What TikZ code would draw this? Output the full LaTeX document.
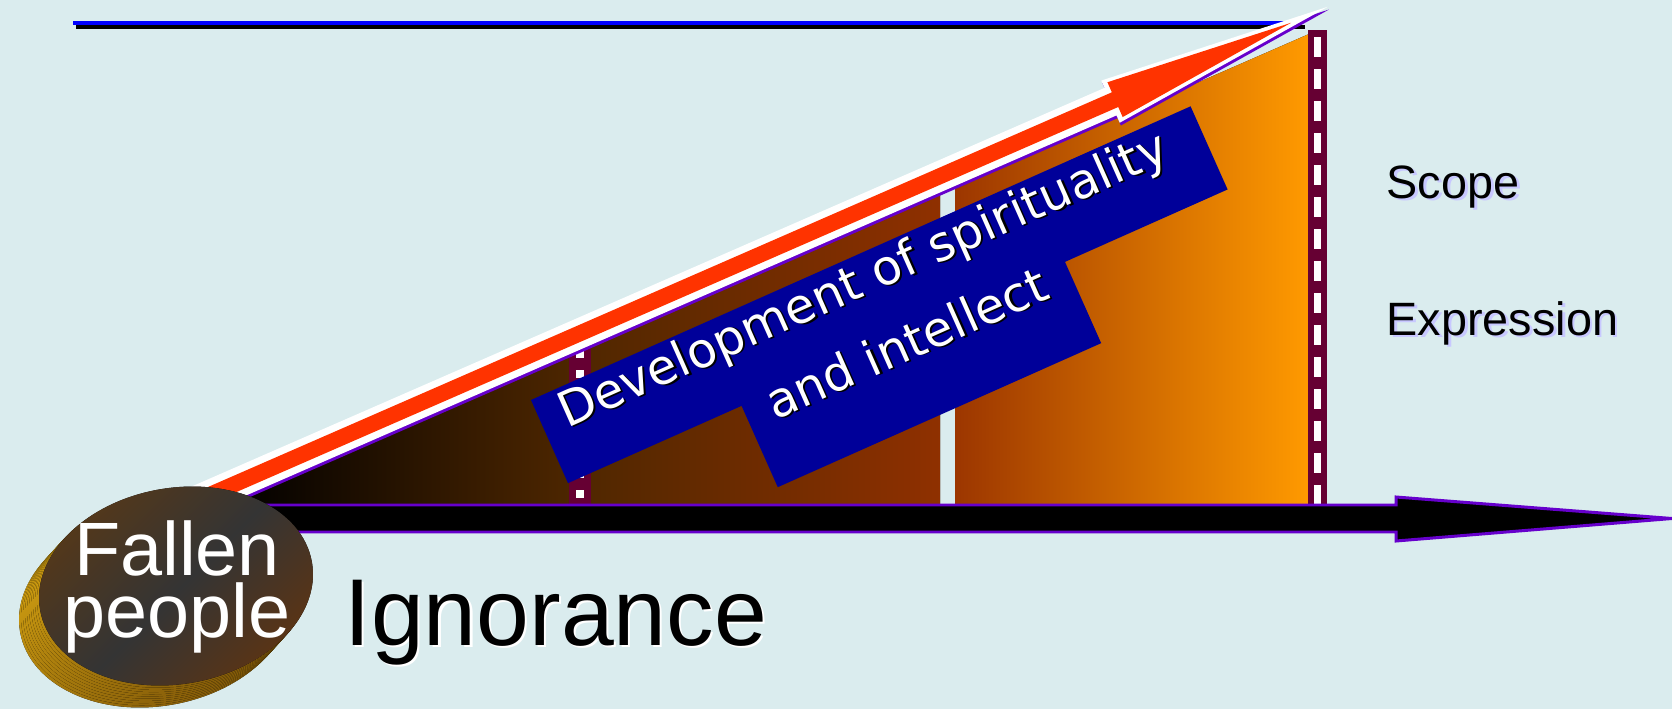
\documentclass[tikz,border=0pt]{standalone}
\usepackage{fontspec}
\setmainfont{Liberation Sans}
\newfontfamily\bannerfont{DejaVu Sans}
\usetikzlibrary{positioning}

\definecolor{bgblue}{HTML}{DAECEE}
\definecolor{maroon}{HTML}{660033}
\definecolor{arrowred}{HTML}{FF3300}
\definecolor{edgepurple}{HTML}{6600CC}
\definecolor{bannerblue}{HTML}{000099}
\definecolor{lavender}{HTML}{C8C8FF}
\definecolor{rustdk}{HTML}{4F2700}
\definecolor{rustmid}{HTML}{8F3000}
\definecolor{rustlt}{HTML}{9C3600}
\definecolor{orangelt}{HTML}{FF9A00}
\definecolor{goldlt}{HTML}{D6A412}
\definecolor{golddk}{HTML}{7E5608}
\definecolor{disktop}{HTML}{54381A}
\definecolor{diskmid}{HTML}{343434}
\definecolor{diskbot}{HTML}{5E3412}

\newcommand{\shadowed}[3]{\makebox[0pt][l]{\hspace{#2}\raisebox{-#2}{\textcolor{#1}{#3}}}#3}

\begin{document}
\begin{tikzpicture}[
            x=0.01cm, y=-0.01cm,
            node distance=1.37cm,
            lbl/.style={font=\fontsize{13.3}{16}\selectfont, inner sep=0pt, anchor=base west},
            bannertxt/.style={font=\bannerfont\fontsize{13.8}{16}\selectfont, text=white, inner sep=0pt, anchor=base},
            bigtxt/.style={font=\fontsize{27}{30}\selectfont, inner sep=0pt, anchor=base west},
            barline/.style={maroon, line width=#1},
            bardash/.style={white, line width=#1}
        ]
        \useasboundingbox[fill=bgblue] (0,0) rectangle (1672,709);

        \draw[line width=1.4pt] (76,27) -- (1305,27);
        \draw[blue, line width=1.4pt] (73,23) -- (1300,23);

        \fill[left color=black, right color=rustdk] (228,506) -- (580,352.3) -- (580,506) -- cycle;
        \fill[left color=rustdk, right color=rustmid] (580,352.3) -- (940,195.1) -- (940,506) -- (580,506) -- cycle;
        \fill[left color=rustlt, right color=orangelt] (955,188.6) -- (1309,34) -- (1309,506) -- (955,506) -- cycle;

        \draw[barline=6.3pt] (580,345) -- (580,506);
        \draw[bardash=2.5pt, dash pattern=on 2.3pt off 3.4pt] (580,350) -- (580,506);
        \draw[barline=5.4pt] (1317.5,30) -- (1317.5,506);
        \draw[bardash=2.2pt, dash pattern=on 5.7pt off 3.4pt] (1317.5,37) -- (1317.5,506);

        \begin{scope}[shift={(228,487)}, rotate=23.59]
            \fill[edgepurple] (-60,-12) -- (963,-12) -- (963,-20) -- (1200,3) -- (963,26) -- (963,18) -- (-60,18) -- cycle;
            \fill[white] (-60,-15) -- (963,-15) -- (963,-23) -- (1200,0) -- (963,23) -- (963,15) -- (-60,15) -- cycle;
            \fill[arrowred] (-60,-8) -- (968,-8) -- (968,-19) -- (1160,0) -- (968,19) -- (968,8) -- (-60,8) -- cycle;
        \end{scope}

        \begin{scope}[shift={(531,400)}, rotate=24, transform shape]
            \fill[bannerblue] (0,0) -- (722,0) -- (722,91) -- (544,91) -- (544,180) -- (190,180) -- (190,91) -- (0,91) -- cycle;
            \node[bannertxt] (dev) at (352,41) {\shadowed{black}{0.5pt}{Development of spirituality}};
            \node[bannertxt] (int) at (366,118) {\shadowed{black}{0.5pt}{and intellect}};
        \end{scope}

        \draw[edgepurple, line width=0.85pt, fill=black] (200,505) -- (1396,505) -- (1396,497) -- (1672,518.5) -- (1396,541) -- (1396,532) -- (200,532) -- cycle;

        \foreach \k in {10,...,1}
            \fill[top color=goldlt, bottom color=golddk, shading angle=30, shift={(176-2*\k,586+2.2*\k)}, rotate=10] (0,0) ellipse (138 and 98);
        \fill[top color=disktop, bottom color=diskbot, middle color=diskmid, shading angle=45, shift={(176,586)}, rotate=10] (0,0) ellipse (138 and 98);

        \node[font=\fontsize{21.5}{17.6}\selectfont, text=white, align=center, inner sep=0pt] (fallen) at (177,587) {Fallen\\people};

        \node[bigtxt] (ignorance) at (344,645) {\shadowed{white}{0.6pt}{Ignorance}};

        \node[lbl] (scope) at (1386,198) {\shadowed{lavender}{0.8pt}{Scope}};
        \node[lbl, below=of scope.base west, anchor=base west] (expression) {\shadowed{lavender}{0.8pt}{Expression}};
    \end{tikzpicture}
\end{document}
